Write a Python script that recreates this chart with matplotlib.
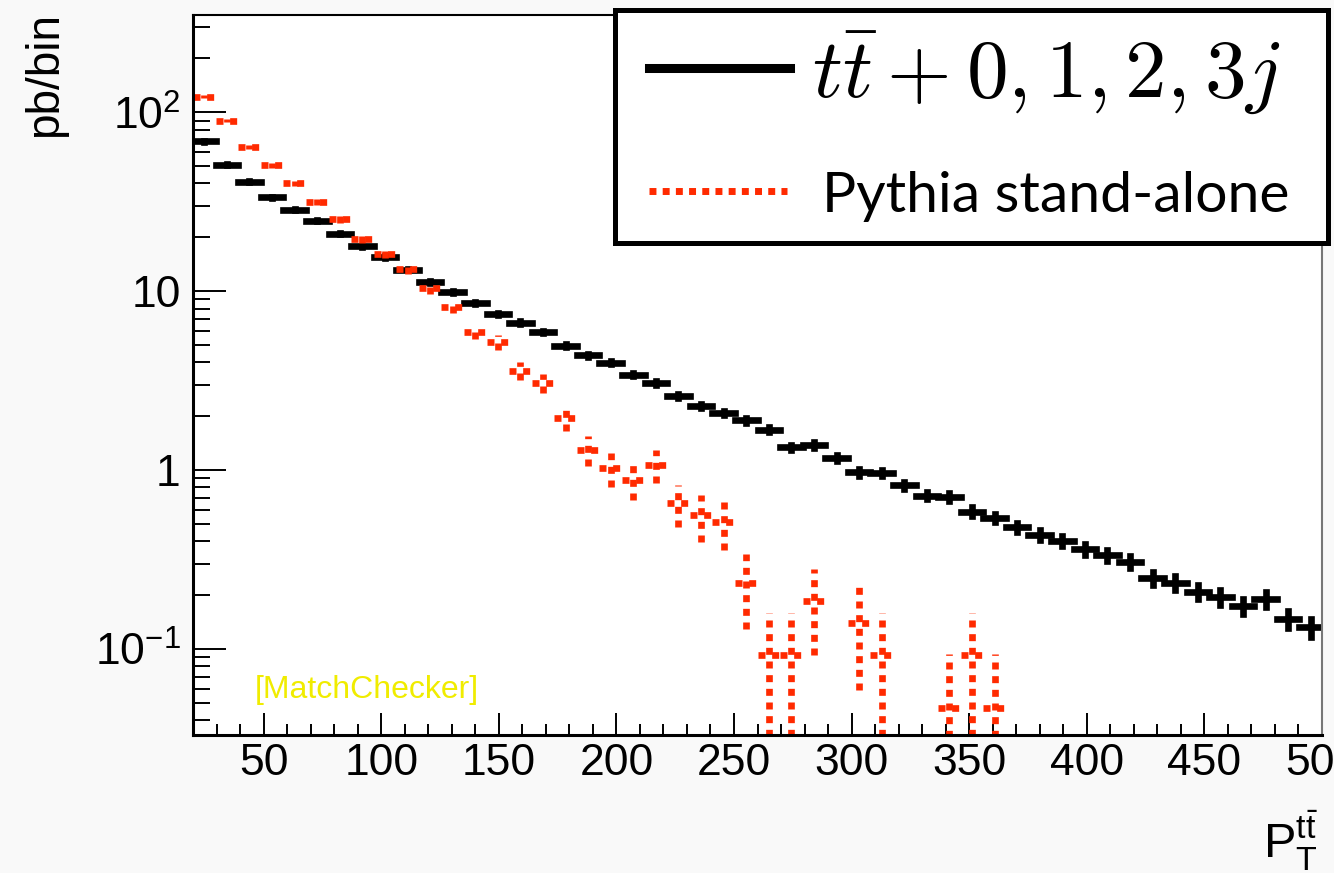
import numpy as np
import matplotlib
matplotlib.use('Agg')
import matplotlib.pyplot as plt
from matplotlib.lines import Line2D
from matplotlib.patches import Rectangle
from matplotlib.ticker import MultipleLocator, NullFormatter

plt.rcParams['font.family'] = ['Liberation Sans', 'DejaVu Sans']
plt.rcParams['mathtext.fontset'] = 'custom'
plt.rcParams['mathtext.rm'] = 'Liberation Sans'
plt.rcParams['mathtext.it'] = 'Liberation Sans:italic'
plt.rcParams['mathtext.bf'] = 'Liberation Sans:bold'

# binning of the pT(ttbar) histogram
pt_lo, pt_hi, nbins = 20.0, 500.0, 50

# pb/bin, matched ttbar + 0,1,2,3 jets
ttbar_matched = [69, 51, 41, 33.4, 28.6, 24.8, 21.0, 17.8, 15.5, 13.2,
                 11.3, 9.9, 8.57, 7.48, 6.67, 5.9, 4.95, 4.39, 3.98, 3.41,
                 3.06, 2.60, 2.27, 2.09, 1.90, 1.68, 1.34, 1.38, 1.17, 0.97,
                 0.966, 0.82, 0.72, 0.71, 0.586, 0.54, 0.479, 0.434, 0.403, 0.361,
                 0.334, 0.306, 0.248, 0.234, 0.208, 0.194, 0.174, 0.190, 0.147, 0.132]

# pb/bin, pythia alone (0 = empty bin)
pythia_alone = [122, 90, 63.7, 50.6, 40, 31.7, 25.2, 19.5, 16.1, 13.3,
                10.4, 8.2, 5.9, 5.19, 3.6, 3.06, 1.95, 1.30, 1.02, 0.885,
                1.07, 0.652, 0.559, 0.513, 0.233, 0.093, 0.093, 0.186, 0, 0.140,
                0.093, 0, 0, 0.0466, 0.093, 0.0466, 0, 0, 0, 0,
                0, 0, 0, 0, 0, 0, 0, 0, 0, 0]

# cross section per generated event (pb)
w_matched = 0.0017
w_pythia = 0.0466

edges = np.linspace(pt_lo, pt_hi, nbins + 1)
centers = 0.5 * (edges[1:] + edges[:-1])
half_w = 0.5 * (edges[1] - edges[0])

fig = plt.figure(figsize=(13.34, 8.73), dpi=100, facecolor='#f9f9f9')
ax = fig.add_axes([0.1447, 0.1581, 0.8463, 0.8247])
ax.set_facecolor('white')

def draw_hist(vals, w, color, dashed):
    v = np.array(vals, dtype=float)
    m = v > 0
    err = np.sqrt(v[m] * w)
    eb = ax.errorbar(centers[m], v[m], xerr=half_w, yerr=err, fmt='none',
                     ecolor=color, elinewidth=4.8, capsize=0)
    for lc in eb[2]:
        if dashed:
            lc.set_linestyle((0, (1.05, 1.0)))
            lc.set_capstyle('butt')
        else:
            lc.set_capstyle('projecting')
    return eb

draw_hist(ttbar_matched, w_matched, 'black', False)
draw_hist(pythia_alone, w_pythia, '#ff2a00', True)

ax.set_yscale('log')
ax.set_xlim(pt_lo, pt_hi)
ax.set_ylim(0.033, 350)

ax.xaxis.set_major_locator(MultipleLocator(50))
ax.xaxis.set_minor_locator(MultipleLocator(10))
ax.set_yticks([0.1, 1, 10, 100])
ax.set_yticklabels(['10$^{-1}$', '1', '10', '10$^{2}$'])
ax.yaxis.set_minor_formatter(NullFormatter())

ax.tick_params(which='both', direction='in', top=False, right=False,
               width=1.4, labelsize=32)
ax.tick_params(axis='x', which='major', length=16, pad=6)
ax.tick_params(axis='x', which='minor', length=8)
ax.tick_params(axis='y', which='major', length=24, pad=9)
ax.tick_params(axis='y', which='minor', length=12)

for s in ('left', 'bottom'):
    ax.spines[s].set_linewidth(2.2)
ax.spines['top'].set_linewidth(1.5)
ax.spines['right'].set_linewidth(1.5)
ax.spines['right'].set_color('#777777')

ax.text(0.055, 0.051, '[MatchChecker]', transform=ax.transAxes,
        fontsize=23, color='#f0ec00')

# axis titles, ROOT style
fig.text(0.034, 1 - 12 / 873, 'pb/bin', rotation=90, ha='center', va='top',
         fontsize=33)
fig.text(1318 / 1334, 1 - 858 / 873, r'P$_{\mathrm{T}}^{\mathrm{t\bar{t}}}$',
         ha='right', va='baseline', fontsize=35)

# legend box
fig.patches.append(Rectangle((615 / 1334, 1 - 243 / 873), 713 / 1334, 233 / 873,
                             transform=fig.transFigure, facecolor='white',
                             edgecolor='black', linewidth=3.6, zorder=5))
fig.lines.append(Line2D([649 / 1334, 790 / 1334], [1 - 68 / 873] * 2,
                        transform=fig.transFigure, color='black', linewidth=6.5,
                        zorder=6))
fig.lines.append(Line2D([649 / 1334, 787 / 1334], [1 - 191 / 873] * 2,
                        transform=fig.transFigure, color='#ff2a00', linewidth=5,
                        linestyle=(0, (1.0, 0.9)), zorder=6))
fig.text(812 / 1334, 1 - 97 / 873, r'$t\bar{t}+0,1,2,3j$', math_fontfamily='cm',
         fontsize=60, va='baseline', zorder=6)
fig.text(822 / 1334, 1 - 212 / 873, 'Pythia stand-alone', family=['Lato', 'DejaVu Sans'],
         fontsize=41, va='baseline', zorder=6)

fig.savefig('out.png', dpi=100, facecolor=fig.get_facecolor())
